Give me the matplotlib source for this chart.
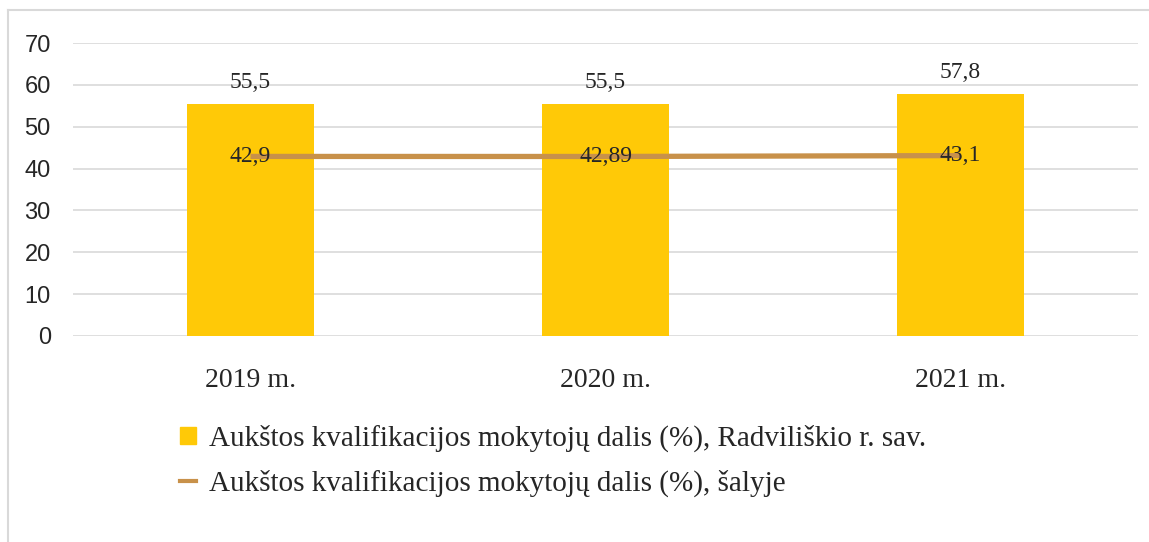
import matplotlib
matplotlib.use("Agg")
import matplotlib.pyplot as plt
from matplotlib.lines import Line2D

categories = ["2019 m.", "2020 m.", "2021 m."]
radviliskis = [55.5, 55.5, 57.8]
salyje = [42.9, 42.89, 43.1]
radv_labels = ["55,5", "55,5", "57,8"]
salyje_labels = ["42,9", "42,89", "43,1"]
yticks = [0, 10, 20, 30, 40, 50, 60, 70]
legend_labels = ["Aukštos kvalifikacijos mokytojų dalis (%), Radviliškio r. sav.",
                 "Aukštos kvalifikacijos mokytojų dalis (%), šalyje"]

bar_color = "#FFC907"
line_color = "#C8914A"
grid_color = "#D9D9D9"
text_color = "#262626"
serif = "Liberation Serif"
sans = "Liberation Sans"

fig = plt.figure(figsize=(11.49, 5.42), dpi=100)
ax = fig.add_axes([73/1149, 1 - 336/542, (1138-73)/1149, (336-43)/542])

x = list(range(len(categories)))
ax.bar(x, radviliskis, width=0.36, color=bar_color, zorder=2)
ax.plot(x, salyje, color=line_color, lw=3.8, zorder=3, solid_capstyle="butt")

for xi, v, lab in zip(x, radviliskis, radv_labels):
    ax.annotate(lab, (xi, v), xytext=(0, 8), textcoords="offset points",
                ha="center", va="bottom", fontsize=17, family=serif, color=text_color)
for xi, v, lab in zip(x, salyje, salyje_labels):
    ax.annotate(lab, (xi, v), xytext=(0, 0), textcoords="offset points",
                ha="center", va="center", fontsize=17, family=serif,
                color=text_color, zorder=4)

ax.set_xlim(-0.5, 2.5)
ax.set_ylim(0, 70)
ax.set_yticks(yticks)
ax.set_yticklabels([str(t) for t in yticks], family=sans, fontsize=17, color=text_color)
ax.set_xticks(x)
ax.set_xticklabels(categories, family=serif, fontsize=20, color=text_color)
ax.tick_params(axis="both", length=0)
ax.tick_params(axis="y", pad=16)
ax.tick_params(axis="x", pad=23)
ax.yaxis.grid(True, color=grid_color, lw=1.2, zorder=0)
ax.set_axisbelow(True)
for s in ax.spines.values():
    s.set_visible(False)

handles = [plt.Rectangle((0, 0), 1, 1, color=bar_color),
           Line2D([0], [0], color=line_color, lw=3)]
leg = fig.legend(handles, legend_labels, loc="upper left",
                 bbox_to_anchor=(180/1149, 1 - 425/542), frameon=False,
                 prop={"family": serif, "size": 21}, handlelength=0.55,
                 handleheight=0.55, handletextpad=0.45, labelspacing=0.6,
                 borderpad=0, borderaxespad=0)
for t in leg.get_texts():
    t.set_color(text_color)

# outer frame (top and left edges)
fig.add_artist(Line2D([8/1149, 8/1149], [0, 1 - 10/542], transform=fig.transFigure,
                      color=grid_color, lw=1.5))
fig.add_artist(Line2D([8/1149, 1], [1 - 10/542, 1 - 10/542], transform=fig.transFigure,
                      color=grid_color, lw=1.5))

fig.savefig("out.png", dpi=100)
